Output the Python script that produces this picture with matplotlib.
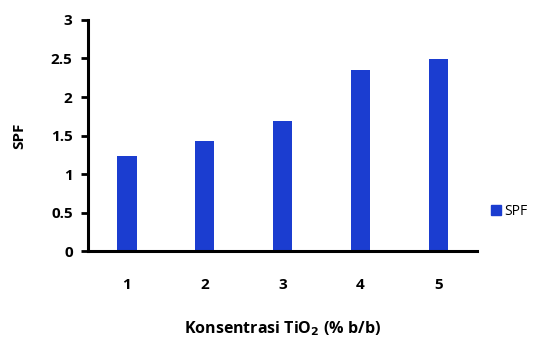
import numpy as np
import matplotlib.pyplot as plt
from matplotlib.patches import Patch

# data
konsentrasi = ["1", "2", "3", "4", "5"]
spf = [1.23, 1.43, 1.69, 2.35, 2.49]
y_ticks = [0, 0.5, 1, 1.5, 2, 2.5, 3]
y_tick_labels = ["0", "0.5", "1", "1.5", "2", "2.5", "3"]

plt.rcParams['font.family'] = ['Open Sans', 'DejaVu Sans']
plt.rcParams['font.weight'] = 'bold'

blue = "#1b3dd0"

fig = plt.figure(figsize=(5.53, 3.38), dpi=100)
ax = fig.add_axes([0.159, 0.257, 0.704, 0.684])

x = np.arange(len(konsentrasi))
ax.bar(x, spf, width=0.25, color=blue)

ax.set_xlim(-0.5, len(konsentrasi) - 0.5)
ax.set_ylim(0, 3)
ax.set_xticks(x)
ax.set_xticklabels(konsentrasi, fontsize=11, fontweight='bold')
ax.set_yticks(y_ticks)
ax.set_yticklabels(y_tick_labels, fontsize=11, fontweight='bold')
ax.tick_params(axis='x', length=0, pad=19)
ax.tick_params(axis='y', length=5, width=2, direction='out', pad=6)

for s in ['top', 'right']:
    ax.spines[s].set_visible(False)
for s in ['left', 'bottom']:
    ax.spines[s].set_linewidth(2.2)

ax.set_ylabel("SPF", fontsize=11, fontweight='bold', labelpad=18)
ax.set_xlabel("Konsentrasi TiO$_\\mathbf{2}$ (% b/b)", fontsize=11.5, fontweight='bold', labelpad=20)

fig.legend(handles=[Patch(color=blue, label="SPF")], loc='center left',
           bbox_to_anchor=(0.866, 0.375), frameon=False,
           prop={'size': 10, 'weight': 'normal'},
           handlelength=0.7, handleheight=0.7, handletextpad=0.2)

plt.savefig("out.png", dpi=100)
